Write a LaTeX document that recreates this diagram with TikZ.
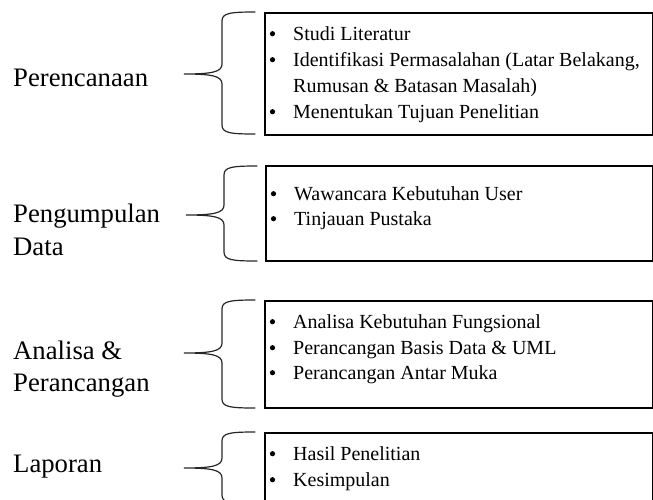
\documentclass[tikz,border=0pt]{standalone}
\usepackage{fontspec}
\setmainfont{Liberation Serif}
\begin{document}
\begin{tikzpicture}[x=1pt,y=-1pt,
  stagebox/.style={draw=black,line width=2pt,inner sep=0pt,anchor=north west},
  stagelabel/.style={anchor=base west,inner sep=0pt,font=\fontsize{26.7}{32}\selectfont},
  itemtext/.style={anchor=base west,inner sep=0pt,font=\fontsize{20}{26}\selectfont},
  itemdot/.style={circle,fill=black,inner sep=0pt,minimum size=5.2pt,yshift=6.3pt},
  bracestroke/.style={draw=black!85,line width=1.2pt,line cap=round}]
\useasboundingbox (0,0) rectangle (653,499);
\clip (0,0) rectangle (653,499);

% curly brace: #1 x-offset, #2 top, #3 tip, #4 bottom
\newcommand\stagebrace[4]{%
  \draw[bracestroke]
    ({255+#1},#2) .. controls ({230+#1},#2) and ({222+#1},{#2+1}) .. ({222+#1},{#2+9})
    -- ({222+#1},{#3-10})
    .. controls ({222+#1},{#3-2}) and ({212+#1},#3) .. ({184+#1},#3)
    .. controls ({212+#1},#3) and ({222+#1},{#3+2}) .. ({222+#1},{#3+10})
    -- ({222+#1},{#4-9})
    .. controls ({222+#1},{#4-1}) and ({230+#1},#4) .. ({255+#1},#4);}

% stage boxes
\node[stagebox,minimum width=388pt,minimum height=122pt] (b1) at (264,12) {};
\node[stagebox,minimum width=387pt,minimum height=95pt]  (b2) at (265,165) {};
\node[stagebox,minimum width=388pt,minimum height=107pt] (b3) at (264,300) {};
\node[stagebox,minimum width=388pt,minimum height=100pt] (b4) at (264,432) {};

% braces
\stagebrace{0}{12}{74}{134}
\stagebrace{2}{166}{215}{261}
\stagebrace{0}{300}{353}{408}
\stagebrace{0}{432}{468}{504}

% stage names
\node[stagelabel] (l1) at (13,86) {Perencanaan};
\node[stagelabel] (l2a) at (13,222) {Pengumpulan};
\node[stagelabel] (l2b) at (13,255) {Data};
\node[stagelabel] (l3a) at (13,359) {Analisa \&};
\node[stagelabel] (l3b) at (13,391) {Perancangan};
\node[stagelabel] (l4) at (13,472) {Laporan};

% box 1 items
\node[itemdot]  (d11) at (272.5,40) {};
\node[itemtext] (t11) at (293,40) {Studi Literatur};
\node[itemdot]  (d12) at (272.5,66) {};
\node[itemtext] (t12) at (293,66) {Identifikasi Permasalahan (Latar Belakang,};
\node[itemtext] (t12b) at (293,92) {Rumusan \& Batasan Masalah)};
\node[itemdot]  (d13) at (272.5,118) {};
\node[itemtext] (t13) at (293,118) {Menentukan Tujuan Penelitian};

% box 2 items
\node[itemdot]  (d21) at (273.5,200) {};
\node[itemtext] (t21) at (294,200) {Wawancara Kebutuhan User};
\node[itemdot]  (d22) at (273.5,225) {};
\node[itemtext] (t22) at (294,225) {Tinjauan Pustaka};

% box 3 items
\node[itemdot]  (d31) at (272.5,328) {};
\node[itemtext] (t31) at (293,328) {Analisa Kebutuhan Fungsional};
\node[itemdot]  (d32) at (272.5,354) {};
\node[itemtext] (t32) at (293,354) {Perancangan Basis Data \& UML};
\node[itemdot]  (d33) at (272.5,379) {};
\node[itemtext] (t33) at (293,379) {Perancangan Antar Muka};

% box 4 items
\node[itemdot]  (d41) at (272.5,460) {};
\node[itemtext] (t41) at (293,460) {Hasil Penelitian};
\node[itemdot]  (d42) at (272.5,486) {};
\node[itemtext] (t42) at (293,486) {Kesimpulan};
\end{tikzpicture}
\end{document}
